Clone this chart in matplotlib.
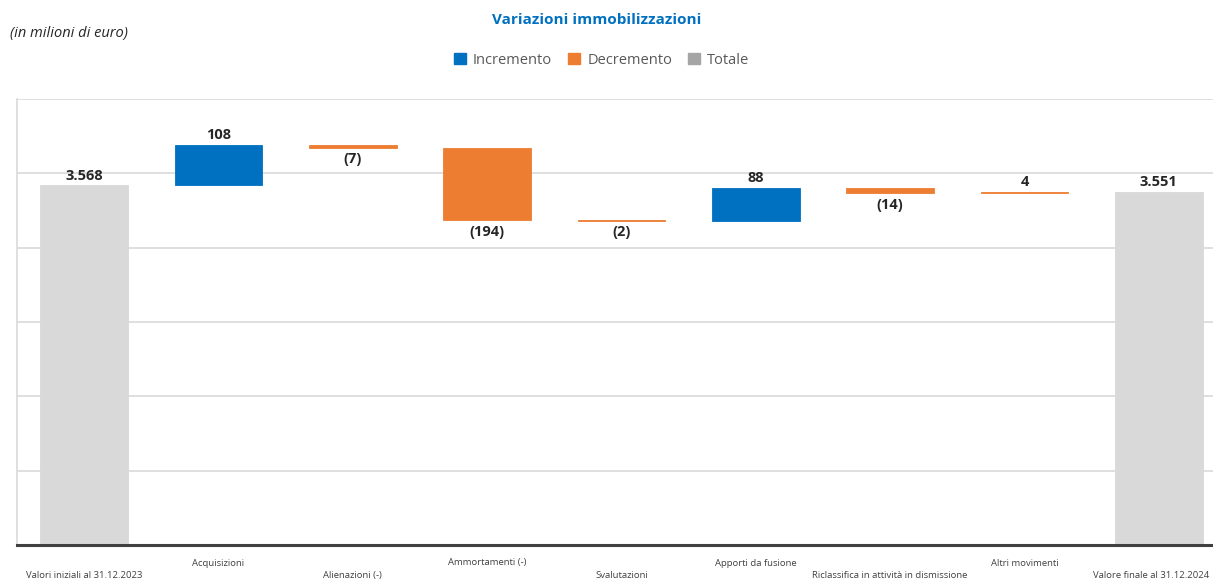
import matplotlib
matplotlib.use("Agg")
import matplotlib.pyplot as plt
from matplotlib.patches import Patch
import matplotlib.transforms as mtransforms

# Data (milioni di euro)
categories = [
    "Valori iniziali al 31.12.2023",
    "Acquisizioni",
    "Alienazioni (-)",
    "Ammortamenti (-)",
    "Svalutazioni",
    "Apporti da fusione",
    "Riclassifica in attività in dismissione",
    "Altri movimenti",
    "Valore finale al 31.12.2024",
]
values = [3568, 108, -7, -194, -2, 88, -14, 4, 3551]
kinds = ["tot", "inc", "dec", "dec", "dec", "inc", "dec", "dec", "tot"]
value_labels = ["3.568", "108", "(7)", "(194)", "(2)", "88", "(14)", "4", "3.551"]

colors = {"inc": "#0070C0", "dec": "#ED7D31", "tot": "#D9D9D9"}
legend_names = ["Incremento", "Decremento", "Totale"]
legend_colors = ["#0070C0", "#ED7D31", "#A5A5A5"]

plt.rcParams["font.family"] = ["Open Sans", "DejaVu Sans"]

# waterfall bottoms/heights
bottoms = []
heights = []
running = 0
for v, k in zip(values, kinds):
    if k == "tot":
        bottoms.append(0)
        heights.append(v)
        running = v
    else:
        bottoms.append(running if v >= 0 else running + v)
        heights.append(abs(v))
        running += v

fig = plt.figure(figsize=(12.13, 5.80), dpi=100)
# axes extends a bit past the right edge, like the cropped original
ax = fig.add_axes([17 / 1213, 35 / 580, 1209 / 1213, 446 / 580])

x = list(range(len(categories)))
bar_colors = [colors[k] for k in kinds]
ax.bar(x, heights, bottom=bottoms, width=0.655, color=bar_colors,
       edgecolor=bar_colors, linewidth=0.6, zorder=3)

ax.set_xlim(-0.5, len(categories) - 0.5)
ax.set_ylim(2600, 3800)
ax.set_yticks([2800, 3000, 3200, 3400, 3600, 3800])
ax.yaxis.grid(True, color="#D9D9D9", linewidth=1.2, zorder=0)
ax.tick_params(left=False, labelleft=False, bottom=False, labelbottom=False)
for side in ["top", "right"]:
    ax.spines[side].set_visible(False)
ax.spines["left"].set_color("#D9D9D9")
ax.spines["left"].set_linewidth(1.2)
ax.spines["bottom"].set_color("#404040")
ax.spines["bottom"].set_linewidth(2.2)
ax.spines["bottom"].set_zorder(4)

# value labels
for i, (b, h, k, lab) in enumerate(zip(bottoms, heights, kinds, value_labels)):
    if values[i] >= 0:
        ax.annotate(lab, (i, b + h), xytext=(0, 7), textcoords="offset points",
                    ha="center", va="center", fontsize=10.5, fontweight="bold",
                    color="#262626")
    else:
        ax.annotate(lab, (i, b), xytext=(0, -8.5), textcoords="offset points",
                    ha="center", va="center", fontsize=10.5, fontweight="bold",
                    color="#262626")

# staggered category labels (last one nudged left so it stays inside)
trans = mtransforms.blended_transform_factory(ax.transData, fig.transFigure)
for i, name in enumerate(categories):
    y = 17 / 580 if i % 2 == 1 else 4.5 / 580
    xpos = i - 0.06 if i == len(categories) - 1 else i
    ax.text(xpos, y, name, transform=trans, ha="center", va="center",
            fontsize=6.8, color="#404040")

fig.text(0.492, 1 - 20 / 580, "Variazioni immobilizzazioni", ha="center", va="center",
         fontsize=11, fontweight="bold", color="#0070C0")
fig.text(10 / 1213, 1 - 33 / 580, "(in milioni di euro)", ha="left", va="center",
         fontsize=10.5, style="italic", color="#262626")

handles = [Patch(facecolor=c, edgecolor=c) for c in legend_colors]
fig.legend(handles, legend_names, loc="center", bbox_to_anchor=(0.496, 1 - 60 / 580),
           ncol=3, frameon=False, fontsize=10.5, handlelength=0.8, handleheight=0.8,
           handletextpad=0.5, columnspacing=1.1, labelcolor="#595959")

fig.savefig("out.png", dpi=100)
